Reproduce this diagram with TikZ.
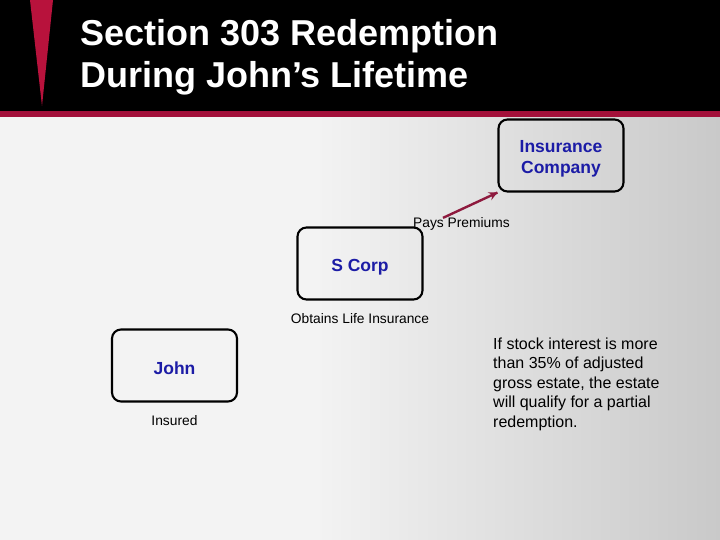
\documentclass[tikz,border=0pt]{standalone}
\usepackage{fontspec}
\setmainfont{Liberation Sans}
\usetikzlibrary{calc,decorations.markings}
\definecolor{wedgered}{HTML}{B8123C}
\definecolor{bandred}{HTML}{A3103A}
\definecolor{boxblue}{HTML}{1C1CA6}
\definecolor{arrowred}{HTML}{8E1A3E}
\definecolor{bgleft}{HTML}{F3F3F3}
\definecolor{bgright}{HTML}{C9C9C9}
\pgfdeclarehorizontalshading{slidebg}{100bp}{color(0bp)=(bgleft); color(25bp)=(bgleft); color(47bp)=(bgleft); color(75bp)=(bgright); color(100bp)=(bgright)}
\newcommand{\lowerstrut}{\rule{0pt}{19pt}}
\tikzset{party/.style = {draw, line width=2.1pt, rounded corners=9pt, minimum width=125pt, minimum height=72pt, align=center, text=boxblue, font=\fontsize{17.5}{21}\selectfont\bfseries}}
\tikzset{caption/.style = {inner sep=0pt, font=\fontsize{13.8}{16}\selectfont}}
\tikzset{titletext/.style = {inner sep=0pt, anchor=base west, text=white, font=\fontsize{36}{42}\selectfont\bfseries}}
\tikzset{paysarrow/.style = {color=arrowred, line width=2.4pt, decoration={markings, mark=at position 1 with {\arrow[scale=1.1]{stealth}}}, postaction={decorate}}}

\begin{document}
\begin{tikzpicture}[x=1pt,y=-1pt]
	\useasboundingbox (0,0) rectangle (720,540);
	% slide background and header
	\shade [shading=slidebg] (0,117) rectangle (720,540);
	\fill [black] (0,0) rectangle (720,111);
	\fill [bandred] (0,111) rectangle (720,117);
	\fill [wedgered] (30,0) -- (53,0) -- (42,106) -- cycle;
	\node [titletext] (title1) at (80,46) {Section 303 Redemption};
	\node [titletext] (title2) at (80,88) {During John’s Lifetime};
	% parties
	\node [party] (ins) at (561,155.5) {\lowerstrut Insurance\\Company};
	\node [party] (scorp) at (360,263.5) {\lowerstrut S Corp};
	\node [party] (john) at (174.5,365.5) {\lowerstrut John};
	\node [caption] (pays) at (461.5,223.5) {Pays Premiums};
	\node [caption] (obtains) at (360,319) {Obtains Life Insurance};
	\node [caption] (insured) at (174.5,421) {Insured};
	\draw [paysarrow] ($(pays.north)+(-18.5,1)$) -- (ins.south west);
	\node [inner sep=0pt, anchor=north west, align=left, font=\fontsize{16}{19.5}\selectfont] (note) at (493,337.5) {If stock interest is more\\than 35\% of adjusted\\gross estate, the estate\\will qualify for a partial\\redemption.};
\end{tikzpicture}
\end{document}
